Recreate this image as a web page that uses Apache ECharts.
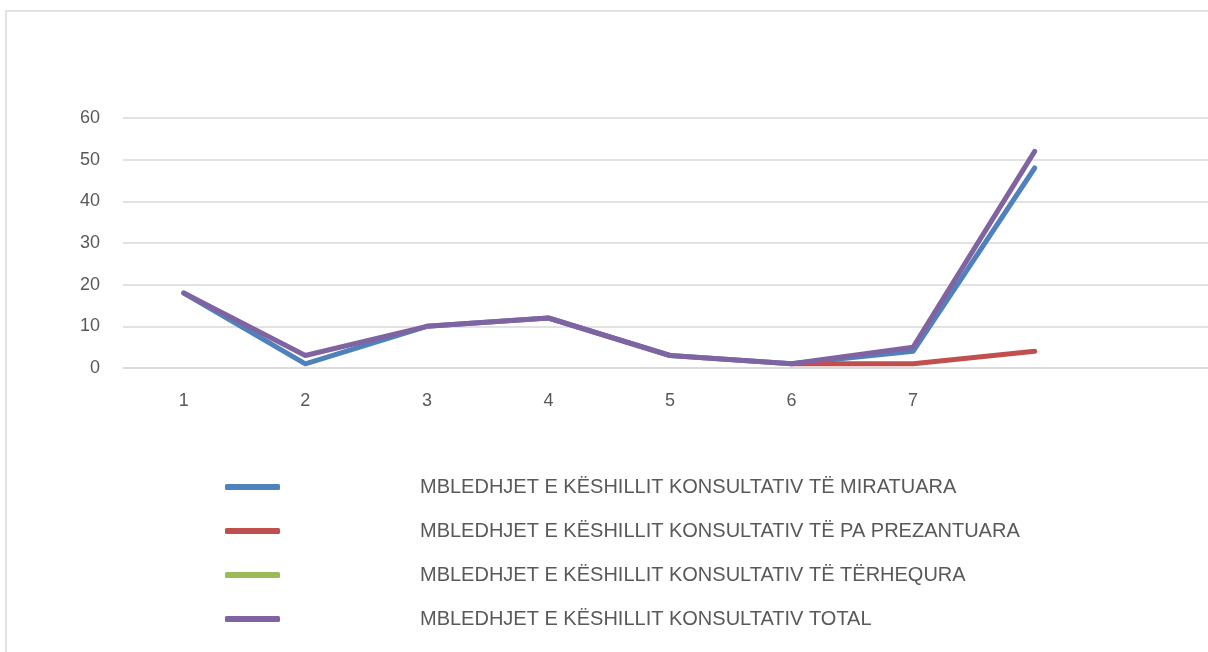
<!DOCTYPE html>
<html>
<head>
<meta charset="utf-8">
<script src="https://cdn.jsdelivr.net/npm/echarts@6/dist/echarts.min.js"></script>
<style>html,body{margin:0;padding:0;background:#fff;overflow:hidden}#c{width:1240px;height:652px}</style>
</head>
<body>
<div id="c"></div>
<script>
var categories = ['1','2','3','4','5','6','7','',''];
var seriesNames = [
  'MBLEDHJET E KËSHILLIT KONSULTATIV TË MIRATUARA',
  'MBLEDHJET E KËSHILLIT KONSULTATIV TË PA PREZANTUARA',
  'MBLEDHJET E KËSHILLIT KONSULTATIV TË TËRHEQURA',
  'MBLEDHJET E KËSHILLIT KONSULTATIV TOTAL'
];
var miratuara = [18, 1, 10, 12, 3, 1, 4, 48, null];
var paPrezantuara = [null, null, null, null, null, 1, 1, 4, null];
var terhequra = [null, null, null, null, null, null, null, null, null];
var total = [18, 3, 10, 12, 3, 1, 5, 52, null];
var yTicks = {min: 0, max: 60, interval: 10};
var colors = ['#4f81bd', '#c0504d', '#9bbb59', '#8064a2'];

var chart = echarts.init(document.getElementById('c'));
function mk(name, data, color) {
  return {
    name: name, type: 'line', data: data, symbol: 'none', connectNulls: false,
    lineStyle: {color: color, width: 5, cap: 'round', join: 'round'},
    itemStyle: {color: color}, animation: false
  };
}
chart.setOption({
  animation: false,
  grid: {left: 123, top: 118, width: 1094, height: 250, containLabel: false},
  graphic: [{type: 'rect', shape: {x: 6, y: 11, width: 1300, height: 800},
    style: {fill: 'none', stroke: '#d9d9d9', lineWidth: 1.5}, silent: true, z: -1}],
  xAxis: {
    type: 'category', data: categories, boundaryGap: true,
    axisLine: {show: true, lineStyle: {color: '#d9d9d9', width: 1.5}},
    axisTick: {show: false},
    axisLabel: {color: '#595959', fontSize: 18, margin: 24, fontFamily: 'Liberation Sans, Arial, sans-serif'},
    splitLine: {show: false}
  },
  yAxis: {
    type: 'value', min: yTicks.min, max: yTicks.max, interval: yTicks.interval,
    axisLine: {show: false}, axisTick: {show: false},
    axisLabel: {color: '#595959', fontSize: 18, margin: 23, fontFamily: 'Liberation Sans, Arial, sans-serif'},
    splitLine: {lineStyle: {color: '#d9d9d9', width: 1.5}}
  },
  legend: {
    orient: 'vertical', left: 225, top: 475, padding: 0, icon: 'roundRect',
    itemWidth: 55, itemHeight: 6, itemGap: 20,
    data: seriesNames,
    textStyle: {color: '#595959', fontSize: 20, lineHeight: 24,
      fontFamily: 'Liberation Sans, Arial, sans-serif',
      padding: [0, 0, 0, 135]}
  },
  series: [
    mk(seriesNames[0], miratuara, colors[0]),
    mk(seriesNames[1], paPrezantuara, colors[1]),
    mk(seriesNames[2], terhequra, colors[2]),
    mk(seriesNames[3], total, colors[3])
  ]
});
</script>
</body>
</html>
